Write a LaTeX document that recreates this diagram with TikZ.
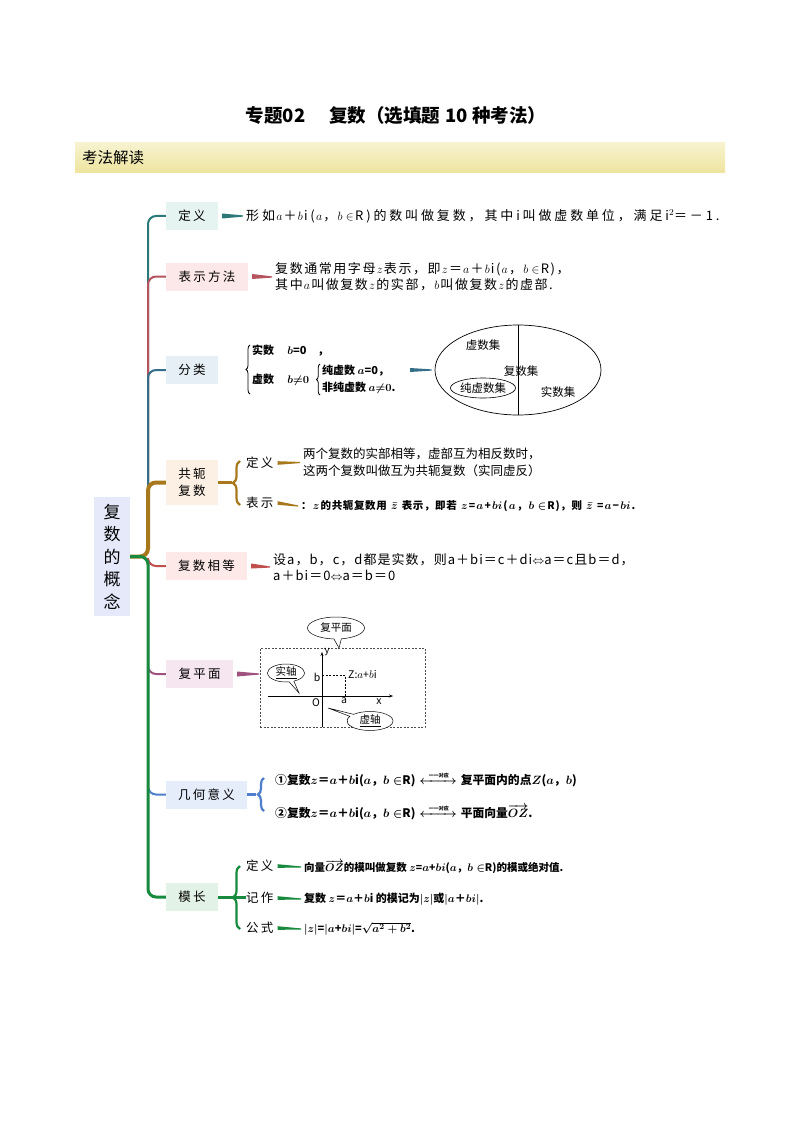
\documentclass[tikz,border=0pt]{standalone}
\usepackage{mathtools}
\usepackage{fontspec}
\setmainfont{Noto Sans CJK SC}
\usetikzlibrary{decorations.pathreplacing,shapes.geometric,shapes.callouts,calc,arrows.meta}
\definecolor{cTeal}{HTML}{2B7A78}
\definecolor{cPink}{HTML}{B5535F}
\definecolor{cBlueT}{HTML}{356E89}
\definecolor{cBrown}{HTML}{A8781C}
\definecolor{cRed}{HTML}{C0504D}
\definecolor{cPurple}{HTML}{A0527F}
\definecolor{cBlue}{HTML}{4F7FCC}
\definecolor{cGreen}{HTML}{178A3E}
\definecolor{bgTeal}{HTML}{E5F3F1}
\definecolor{bgPink}{HTML}{FCE8E8}
\definecolor{bgBlueT}{HTML}{E6EFF5}
\definecolor{bgBrown}{HTML}{FCEFE3}
\definecolor{bgRed}{HTML}{FCE9E8}
\definecolor{bgPurple}{HTML}{F6E6EF}
\definecolor{bgBlue}{HTML}{E5ECFA}
\definecolor{bgGreen}{HTML}{E3F2E7}
\definecolor{bgRoot}{HTML}{E6E9F9}
\definecolor{bandTop}{HTML}{F7F3CF}
\definecolor{bandBot}{HTML}{EEE49E}
\newcommand\fs[1]{\fontsize{#1}{#1}\selectfont}
\newcommand\mm[1]{\hspace{1.2pt}$#1$\hspace{1.2pt}}
\newcommand\taperln[4]{\fill[#3] ($(#1)+(4,-#4)$) -- ($(#2)+(-3,-0.6)$) -- ($(#2)+(-3,0.6)$) -- ($(#1)+(4,#4)$) -- cycle;}
\newcommand\yiyi{$\;\xleftrightarrow{\text{\fs{5}\hspace{5pt}一一对应\hspace{5pt}}}\;$}
\tikzset{
  topic/.style={minimum height=28pt, inner sep=0pt, font=\fs{12.5}\addfontfeature{LetterSpace=18}},
  txt/.style={anchor=west, inner sep=0pt, font=\fs{12.5}, align=left},
  btxt/.style={anchor=west, inner sep=0pt, font=\fs{11}\bfseries\boldmath, align=left},
  sublab/.style={anchor=west, inner sep=0pt, font=\fs{12.5}\addfontfeature{LetterSpace=18}},
  branch/.style={rounded corners=8pt, line width=2pt},
  figtxt/.style={inner sep=0pt, font=\fs{10.5}},
}
\begin{document}
\begin{tikzpicture}[x=1pt,y=-1pt]
\useasboundingbox (0,0) rectangle (794,1123);
\fill[white] (0,0) rectangle (794,1123);
% title
\node[font=\fs{18.5}\bfseries] (title) at (396,116) {专题02\hspace{1.3em}复数（选填题\hspace{0.25em}10\hspace{0.25em}种考法）};
\shade[top color=bandTop, bottom color=bandBot] (75,143) rectangle (725,173);
\node[anchor=west, font=\fs{15.5}, inner sep=0pt] (band) at (82,158) {考法解读};
% root
\node[fill=bgRoot, minimum width=36pt, minimum height=119pt, inner sep=0pt, font=\fontsize{17}{22.5}\selectfont, align=center] (root) at (112,556.5) {复\\数\\的\\概\\念};
% topics
\node[topic, fill=bgTeal, minimum width=52pt] (n1) at (192,216) {定义};
\node[topic, fill=bgPink, minimum width=82pt] (n2) at (207,276.5) {表示方法};
\node[topic, fill=bgBlueT, minimum width=52pt] (n3) at (192,370) {分类};
\node[topic, fill=bgBrown, minimum width=52pt, minimum height=45pt, align=center, font=\fontsize{12.5}{17}\selectfont\addfontfeature{LetterSpace=18}] (n4) at (192,482.5) {共轭\\复数};
\node[topic, fill=bgRed, minimum width=81pt] (n5) at (206.5,566) {复数相等};
\node[topic, fill=bgPurple, minimum width=67pt] (n6) at (199.5,674) {复平面};
\node[topic, fill=bgBlue, minimum width=81pt] (n7) at (206.5,794.5) {几何意义};
\node[topic, fill=bgGreen, minimum width=52pt] (n8) at (192,897) {模长};
% branches
\draw[branch, cTeal] (root.east) -- (148,556.5) -- (148,216) -- (n1.west);
\draw[branch, cPink] (root.east) -- (148,556.5) -- (148,276.5) -- (n2.west);
\draw[branch, cBlueT] (root.east) -- (148,556.5) -- (148,370) -- (n3.west);
\draw[branch, cBrown, line width=4pt] (root.east) -- (148,556.5) -- (148,482.5) -- (n4.west);
\draw[branch, cRed] (root.east) -- (148,556.5) -- (148,566) -- (n5.west);
\draw[branch, cPurple] (148,560) -- (148,674) -- (n6.west);
\draw[branch, cBlue] (148,560) -- (148,794.5) -- (n7.west);
\draw[branch, cGreen, line width=3pt] (root.east) -- (148,556.5) -- (148,897) -- (n8.west);
% 定义
\node[txt, font=\fs{13}\addfontfeature{LetterSpace=22}] (t1) at (246,216) {形如\mm{a}＋\mm{b}i(\mm{a}，\mm{b\in}R)的数叫做复数，其中i叫做虚数单位，满足i$^2$＝－1.};
\taperln{n1.east}{t1.west}{cTeal}{2.5}
% 表示方法
\node[txt, font=\fontsize{13}{16}\selectfont\addfontfeature{LetterSpace=12}] (t2) at (275,277) {复数通常用字母\mm{z}表示，即\mm{z}＝\mm{a}＋\mm{b}i(\mm{a}，\mm{b\in}R)，\\其中\mm{a}叫做复数\mm{z}的实部，\mm{b}叫做复数\mm{z}的虚部.};
\taperln{n2.east}{t2.west}{cPink}{2.5}
% 分类
\draw[decorate, decoration={brace, amplitude=4pt}, line width=0.8pt] (250,394) -- (250,345);
\node[btxt] (c1) at (252,351) {实数\hspace{1.2em}$b$=0\hspace{1em}，};
\node[btxt] (c2) at (252,380) {虚数\hspace{1.2em}$b{\neq}0$};
\draw[decorate, decoration={brace, amplitude=3.5pt}, line width=0.8pt] (320,395) -- (320,364);
\node[btxt] (c3) at (322,371) {纯虚数 $a$=0，};
\node[btxt] (c4) at (322,388) {非纯虚数 $a{\neq}0$.};
\coordinate (clsR) at (406,370);
\node[draw, ellipse, minimum width=166pt, minimum height=90pt, inner sep=0pt, line width=0.7pt] (cset) at (518,370) {};
\taperln{clsR}{cset.west}{cBlueT}{2}
\draw[line width=0.7pt] (cset.north) -- (cset.south);
\node[figtxt, font=\fs{11.5}] (s1) at (483,345) {虚数集};
\node[figtxt, font=\fs{11.5}] (s2) at (521,371) {复数集};
\node[draw, ellipse, inner sep=0pt, minimum width=56pt, minimum height=20pt, font=\fs{11.5}, line width=0.6pt] (s3) at (483,388) {纯虚数集};
\node[figtxt, font=\fs{11.5}] (s4) at (558,392) {实数集};
% 共轭复数
\draw[cBrown, line width=3pt] (n4.east) -- (232,482.5);
\draw[cBrown, line width=2.2pt, decorate, decoration={brace, amplitude=7pt}] (240,505) -- (240,461);
\node[sublab] (g1) at (246,463) {定义};
\node[sublab] (g2) at (246,503) {表示};
\node[txt, font=\fontsize{12.5}{17}\selectfont] (gt1) at (303,462.5) {两个复数的实部相等，虚部互为相反数时，\\这两个复数叫做互为共轭复数（实同虚反）};
\node[btxt, font=\fs{10.5}\bfseries\boldmath\addfontfeature{LetterSpace=6}] (gt2) at (301,506) {：\mm{z}的共轭复数用 \mm{\bar z} 表示，即若 \mm{z}=\mm{a}+\mm{bi}(\mm{a}，\mm{b\in}R)，则 \mm{\bar z} =\mm{a}−\mm{bi}.};
\taperln{g1.east}{gt1.west}{cBrown}{1.8}
\taperln{g2.east}{gt2.west}{cBrown}{1.8}
% 复数相等
\node[txt, font=\fontsize{13}{16}\selectfont\addfontfeature{LetterSpace=8}] (e1) at (273,567) {设a，b，c，d都是实数，则a＋bi＝c＋di$\Leftrightarrow$a＝c且b＝d，\\a＋bi＝0$\Leftrightarrow$a＝b＝0};
\taperln{n5.east}{e1.west}{cRed}{2.5}
% 复平面
\node[draw=black!70, dashed, dash pattern=on 2pt off 1.5pt, minimum width=165pt, minimum height=79pt, inner sep=0pt] (fig) at (342.5,687.5) {};
\coordinate (figL) at (262,674);
\taperln{n6.east}{figL}{cPurple}{2.5}
\coordinate (yB) at (322,727);
\coordinate (yT) at (322,652);
\coordinate (xL) at (268,696);
\coordinate (xR) at (393,696);
\draw[-{Stealth[length=4pt,width=3pt]}, line width=0.5pt] (yB) -- (yT);
\draw[-{Stealth[length=4pt,width=3pt]}, line width=0.5pt] (xL) -- (xR);
\node[figtxt, font=\fs{9.5}\itshape] (ly) at (327,652) {y};
\node[figtxt, font=\fs{10.5}\itshape] (lx) at (379,702) {x};
\node[figtxt, font=\fs{10.5}\itshape] (lO) at (316,703) {O};
\node[figtxt, font=\fs{10.5}\itshape] (la) at (344,701) {a};
\node[figtxt, font=\fs{10.5}\itshape] (lb) at (317,677) {b};
\coordinate (pB) at (322,675);
\coordinate (pZ) at (345,675);
\coordinate (pA) at (345,696);
\draw[dashed, dash pattern=on 2pt off 1.5pt, line width=0.5pt] (pB) -- (pZ) -- (pA);
\node[figtxt, anchor=west] (lz) at (348,674) {Z:$a$+$b$i};
\node[draw, ellipse callout, callout absolute pointer={(339,648)}, minimum width=57pt, minimum height=22pt, inner sep=0pt, font=\fs{10.5}, line width=0.5pt, fill=white] (bb1) at (336,628) {复平面};
\node[draw, ellipse callout, callout absolute pointer={(299,693)}, minimum width=37pt, minimum height=18pt, inner sep=0pt, font=\fs{10.5}, line width=0.5pt, fill=white] (bb2) at (286,673) {\underline{实轴}};
\node[draw, ellipse callout, callout absolute pointer={(328,708)}, minimum width=46pt, minimum height=19pt, inner sep=0pt, font=\fs{10.5}, line width=0.5pt, fill=white] (bb3) at (370,721) {\underline{虚轴}};
% 几何意义
\draw[cBlue, line width=3pt] (n7.east) -- (256,794.5);
\draw[cBlue, line width=2.2pt, decorate, decoration={brace, amplitude=6pt}] (264,811) -- (264,778);
\node[btxt, font=\fs{11.8}\bfseries\boldmath] (j1) at (275,779) {①复数$z$＝$a$＋$b$i($a$，$b\in$R)\yiyi 复平面内的点$Z$($a$，$b$)};
\node[btxt, font=\fs{11.8}\bfseries\boldmath] (j2) at (275,812) {②复数$z$＝$a$＋$b$i($a$，$b\in$R)\yiyi 平面向量$\overrightarrow{OZ}$.};
% 模长
\draw[cGreen, line width=3pt] (n8.east) -- (246,897);
\draw[cGreen, line width=2.2pt, decorate, decoration={brace, amplitude=7pt}] (240,929) -- (240,866);
\node[sublab] (m1) at (246,866) {定义};
\node[sublab] (m2) at (246,898) {记作};
\node[sublab] (m3) at (246,928) {公式};
\node[btxt, font=\fs{10.5}\bfseries\boldmath] (mt1) at (304,867) {向量$\overrightarrow{OZ}$的模叫做复数 $z$=$a$+$bi$($a$，$b\in$R)的模或绝对值.};
\node[btxt, font=\fs{11}\bfseries\boldmath] (mt2) at (304,899) {复数 $z$＝$a$＋$b$i 的模记为$|z|$或$|a$＋$bi|$.};
\node[btxt, font=\fs{11}\bfseries\boldmath] (mt3) at (304,929) {$|z|$=$|a$+$bi|$=$\sqrt{a^2+b^2}$.};
\taperln{m1.east}{mt1.west}{cGreen}{1.8}
\taperln{m2.east}{mt2.west}{cGreen}{1.8}
\taperln{m3.east}{mt3.west}{cGreen}{1.8}
\end{tikzpicture}
\end{document}
